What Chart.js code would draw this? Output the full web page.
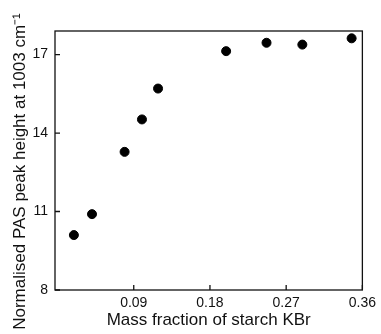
<!DOCTYPE html>
<html lang="en">
<head>
  <meta charset="UTF-8">
  <title>PAS peak height</title>
  <script src="https://cdn.jsdelivr.net/npm/chart.js"></script>
  <style>
    body { margin: 0; background: #fff; }
    #wrap { position: relative; width: 381px; height: 334px; }
  </style>
</head>
<body>
  <div id="wrap"><canvas id="chart"></canvas></div>
  <script>
    // data
    const massFraction = [0.0193, 0.0407, 0.0792, 0.0997, 0.1187, 0.1991, 0.2468, 0.2891, 0.3473];
    const peakHeight = [10.10, 10.90, 13.28, 14.52, 15.70, 17.13, 17.45, 17.38, 17.62];
    const xTicks = [0.09, 0.18, 0.27, 0.36];
    const yTicks = [8, 11, 14, 17];
    const yTitle = 'Normalised PAS peak height at 1003 cm\u207B\u00B9';

    const points = massFraction.map((x, i) => ({ x: x, y: peakHeight[i] }));

    // box round the plot, inward tick marks, and the y title (sits a bit low in the original)
    const framePlugin = {
      id: 'frame',
      afterDraw(chart) {
        const { ctx, chartArea: a, scales } = chart;
        ctx.save();
        ctx.strokeStyle = '#111';
        ctx.lineWidth = 1.3;
        ctx.strokeRect(a.left, a.top, a.right - a.left, a.bottom - a.top);
        ctx.beginPath();
        xTicks.forEach(v => {
          const px = scales.x.getPixelForValue(v);
          ctx.moveTo(px, a.bottom);
          ctx.lineTo(px, a.bottom - 5);
        });
        yTicks.forEach(v => {
          const py = scales.y.getPixelForValue(v);
          ctx.moveTo(a.left, py);
          ctx.lineTo(a.left + 5, py);
        });
        ctx.stroke();

        ctx.translate(20, (a.top + a.bottom) / 2 + 11);
        ctx.rotate(-Math.PI / 2);
        ctx.fillStyle = '#111';
        ctx.font = '17px "Liberation Sans"';
        ctx.textAlign = 'center';
        ctx.textBaseline = 'middle';
        ctx.fillText(yTitle, 0, 0);
        ctx.restore();
      }
    };

    new Chart(document.getElementById('chart'), {
      type: 'scatter',
      data: {
        datasets: [{
          data: points,
          backgroundColor: '#000',
          borderColor: '#000',
          pointRadius: 4.5,
          pointHoverRadius: 4.5
        }]
      },
      options: {
        responsive: true,
        maintainAspectRatio: false,
        animation: false,
        layout: { padding: { top: 31, right: 14, left: 0, bottom: 0 } },
        plugins: { legend: { display: false }, tooltip: { enabled: false } },
        scales: {
          x: {
            type: 'linear',
            min: -0.003,
            max: 0.36,
            afterBuildTicks: s => { s.ticks = xTicks.map(v => ({ value: v })); },
            afterFit: s => { s.height = 44; },
            ticks: {
              color: '#111',
              font: { family: 'Liberation Sans', size: 14 },
              padding: 5,
              maxRotation: 0,
              callback: v => v.toFixed(2)
            },
            grid: { display: false, drawTicks: false },
            border: { display: false },
            title: {
              display: true,
              text: 'Mass fraction of starch KBr',
              color: '#111',
              font: { family: 'Liberation Sans', size: 17 },
              padding: { top: 0, bottom: 3 }
            }
          },
          y: {
            min: 8,
            max: 17.9,
            afterBuildTicks: s => { s.ticks = yTicks.map(v => ({ value: v })); },
            afterFit: s => { s.width = 55; },
            ticks: {
              color: '#111',
              font: { family: 'Liberation Sans', size: 14 },
              padding: 7
            },
            grid: { display: false, drawTicks: false },
            border: { display: false }
          }
        }
      },
      plugins: [framePlugin]
    });
  </script>
</body>
</html>
